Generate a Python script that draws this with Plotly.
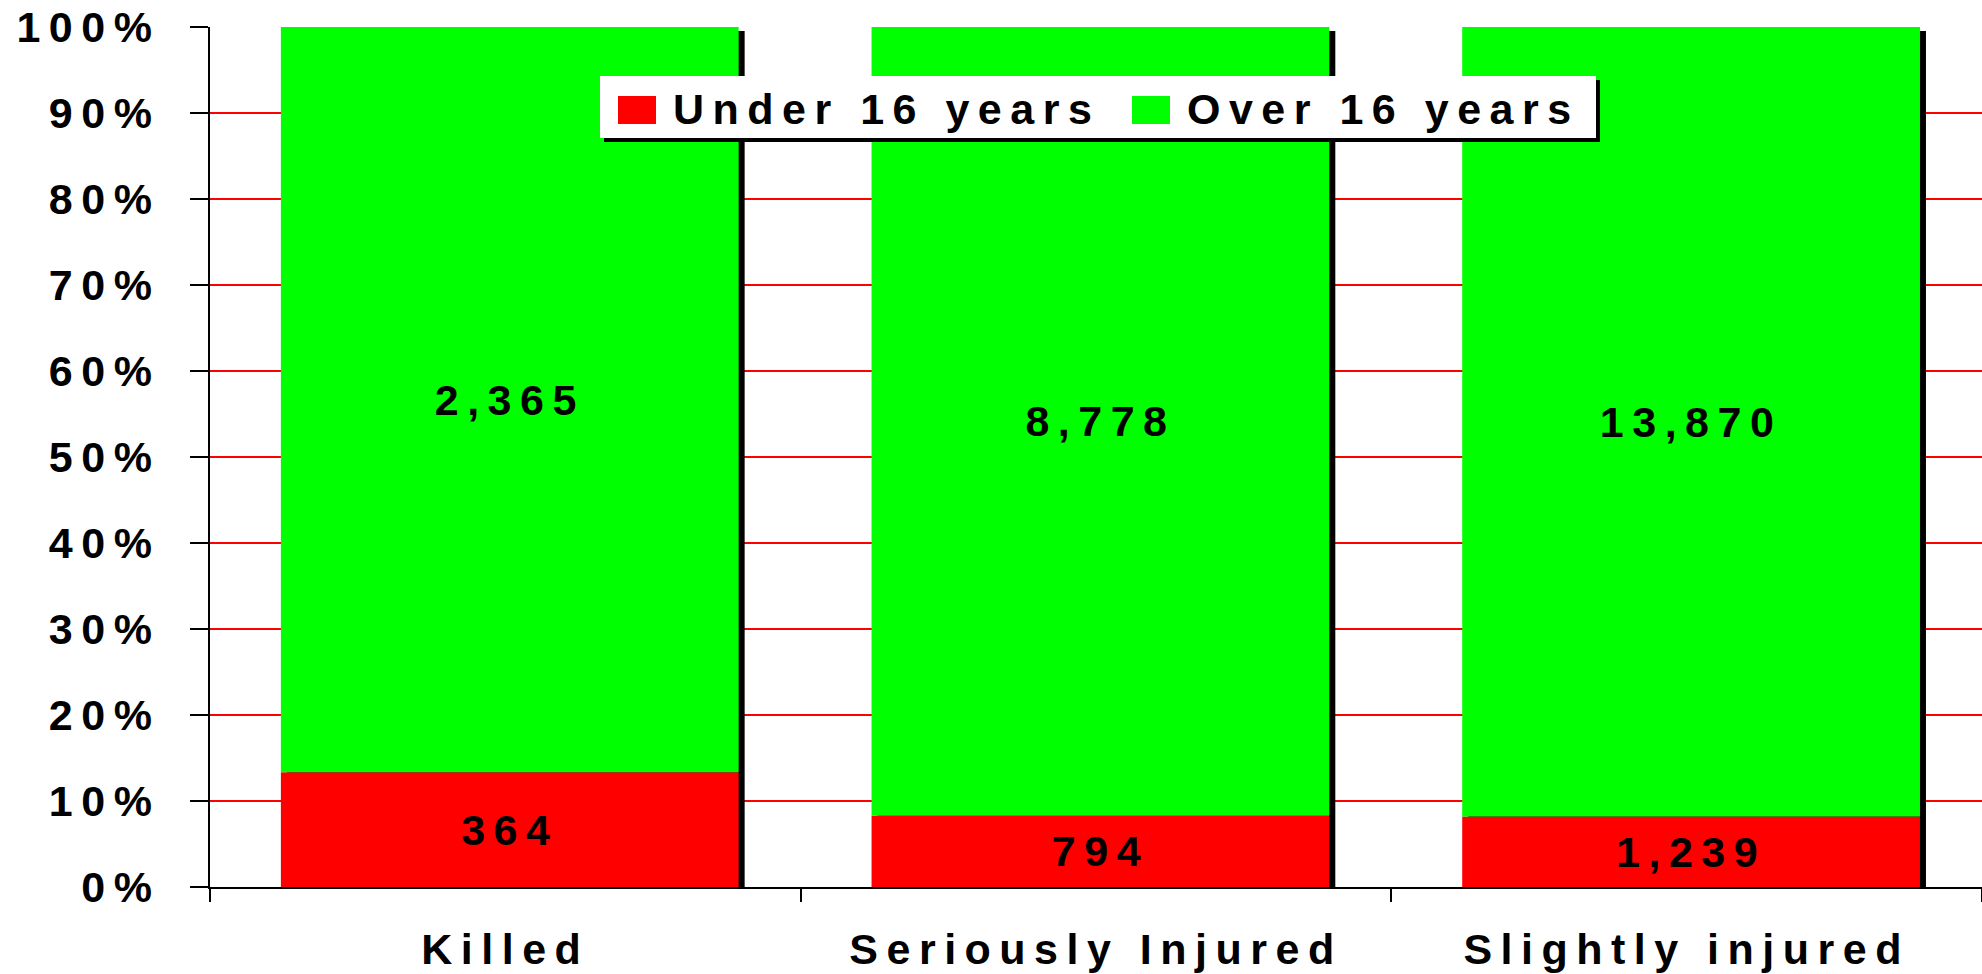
import plotly.graph_objects as go

categories = ["Killed", "Seriously Injured", "Slightly injured"]
under_16 = [364, 794, 1239]
over_16 = [2365, 8778, 13870]
series_names = ["Under 16 years", "Over 16 years"]
series_colors = ["#ff0000", "#00ff00"]
y_tick_values = [0, 10, 20, 30, 40, 50, 60, 70, 80, 90, 100]
y_tick_labels = ["0%", "10%", "20%", "30%", "40%", "50%", "60%", "70%", "80%", "90%", "100%"]

FONT = "Liberation Sans, Arial, sans-serif"
FS = 43    # font size
SP = 8.5   # letter spacing in px


def spaced(s):
    return f'<span style="letter-spacing:{SP}px">{s}</span>'


totals = [u + o for u, o in zip(under_16, over_16)]
under_pct = [100.0 * u / t for u, t in zip(under_16, totals)]
over_pct = [100.0 * o / t for o, t in zip(over_16, totals)]

W, H = 1982, 974
ML, MR, MT, MB = 210, 0, 27, 87
plot_w = W - ML - MR
plot_h = H - MT - MB
band_px = plot_w / 3

bar_width = 0.775
bar_offset = -0.38
shadow_dx = 6 / band_px
shadow_dy = 4 / plot_h * 100

bold_font = dict(family=FONT, size=FS, color="black", weight="bold")

fig = go.Figure()

# drop shadow behind bars
fig.add_trace(go.Bar(
    x=categories, y=[100 - shadow_dy] * len(categories), base=0,
    width=bar_width, offset=bar_offset + shadow_dx,
    marker=dict(color="black", line=dict(width=0)),
    showlegend=False, hoverinfo="skip",
))

fig.add_trace(go.Bar(
    x=categories, y=under_pct, base=0, name=series_names[0],
    width=bar_width, offset=bar_offset,
    marker=dict(color=series_colors[0], line=dict(width=0)),
    text=[spaced(f"{v:,}") for v in under_16],
    textposition="inside", insidetextanchor="middle", textangle=0,
    constraintext="none", textfont=bold_font,
    customdata=under_16, hovertemplate="%{x}<br>%{customdata:,}<extra>" + series_names[0] + "</extra>",
    showlegend=False,
))

fig.add_trace(go.Bar(
    x=categories, y=over_pct, base=under_pct, name=series_names[1],
    width=bar_width, offset=bar_offset,
    marker=dict(color=series_colors[1], line=dict(width=0)),
    text=[spaced(f"{v:,}") for v in over_16],
    textposition="inside", insidetextanchor="middle", textangle=0,
    constraintext="none", textfont=bold_font,
    customdata=over_16, hovertemplate="%{x}<br>%{customdata:,}<extra>" + series_names[1] + "</extra>",
    showlegend=False,
))


def px_x(p):
    return (p - ML) / plot_w


def px_y(p):
    return (H - MB - p) / plot_h


# legend box (drawn as a framed key with drop shadow)
LX0, LY0, LX1, LY1 = 600, 76, 1596, 138
shapes = [
    dict(type="rect", xref="paper", yref="paper",
         x0=px_x(LX0 + 4), x1=px_x(LX1 + 4), y0=px_y(LY1 + 4), y1=px_y(LY0 + 4),
         fillcolor="black", line=dict(width=0), layer="above"),
    dict(type="rect", xref="paper", yref="paper",
         x0=px_x(LX0), x1=px_x(LX1), y0=px_y(LY1), y1=px_y(LY0),
         fillcolor="white", line=dict(width=0), layer="above"),
]
annotations = []
swatch_x = [618, 1132]
text_x = [671, 1185]
for name, color, sx, tx in zip(series_names, series_colors, swatch_x, text_x):
    shapes.append(dict(type="rect", xref="paper", yref="paper",
                       x0=px_x(sx), x1=px_x(sx + 38), y0=px_y(124), y1=px_y(96),
                       fillcolor=color, line=dict(width=0), layer="above"))
    annotations.append(dict(xref="paper", yref="paper", x=px_x(tx), y=px_y(109),
                            xanchor="left", yanchor="middle", showarrow=False,
                            text=spaced(name), font=bold_font))

fig.update_layout(
    width=W, height=H,
    margin=dict(l=ML, r=MR, t=MT, b=MB, pad=0),
    barmode="overlay",
    paper_bgcolor="white", plot_bgcolor="white",
    font=bold_font,
    showlegend=False,
    shapes=shapes,
    annotations=annotations,
    xaxis=dict(
        type="category", range=[-0.5, 2.5], automargin=False,
        tickmode="array", tickvals=categories, ticktext=[spaced(c) for c in categories],
        tickson="boundaries", ticks="outside", ticklen=13, tickwidth=2, tickcolor="black",
        showline=True, linecolor="black", linewidth=2,
        showgrid=False, zeroline=False,
        tickfont=bold_font,
        ticklabelstandoff=23,
        fixedrange=True,
    ),
    yaxis=dict(
        range=[0, 100], automargin=False,
        tickmode="array", tickvals=y_tick_values, ticktext=[spaced(t) for t in y_tick_labels],
        ticks="outside", ticklen=18, tickwidth=2, tickcolor="black",
        showline=True, linecolor="black", linewidth=2,
        showgrid=True, gridcolor="#ff0000", gridwidth=2,
        zeroline=False,
        tickfont=bold_font,
        ticklabelstandoff=21,
        fixedrange=True,
    ),
)

fig.write_html(
    "out.html",
    config={"displayModeBar": False},
    post_script="document.body.style.margin='0';document.body.style.overflow='hidden';",
)
